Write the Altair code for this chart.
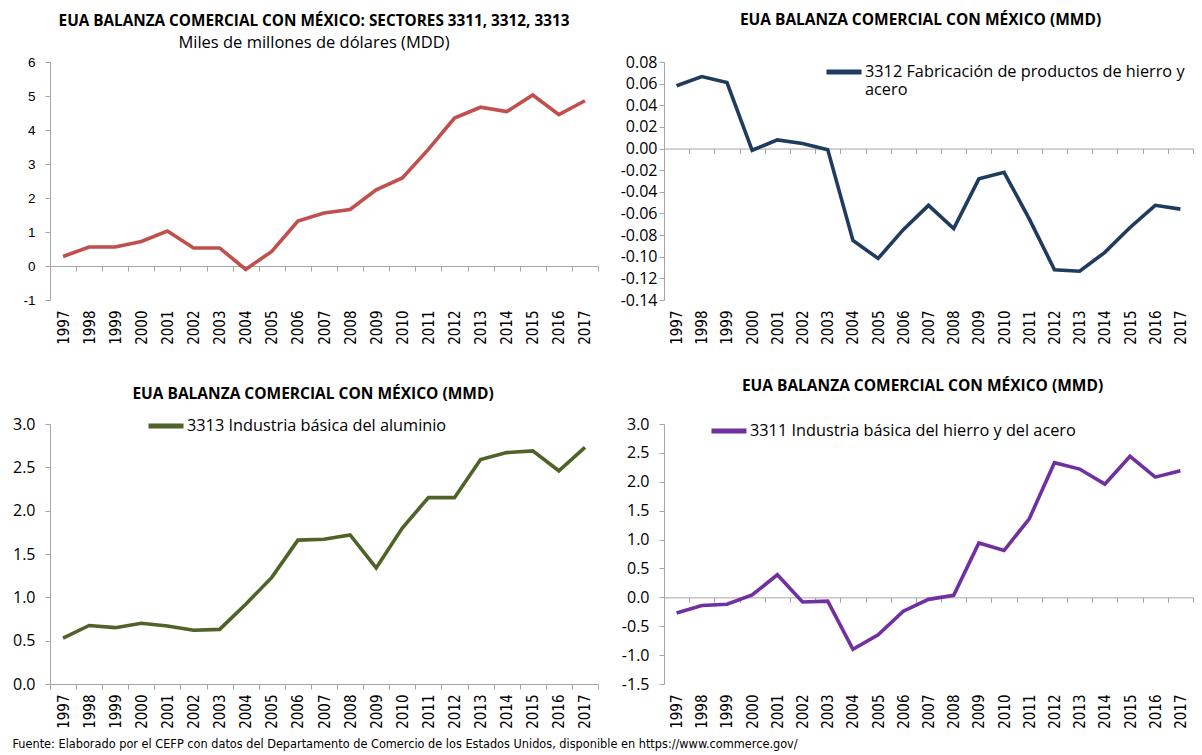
import altair as alt
import pandas as pd

years = ["1997", "1998", "1999", "2000", "2001", "2002", "2003", "2004", "2005", "2006", "2007",
         "2008", "2009", "2010", "2011", "2012", "2013", "2014", "2015", "2016", "2017"]

total = [0.28, 0.56, 0.56, 0.72, 1.03, 0.53, 0.53, -0.10, 0.43, 1.32, 1.56,
         1.66, 2.24, 2.59, 3.43, 4.35, 4.67, 4.54, 5.03, 4.45, 4.86]
s3312 = [0.058, 0.0665, 0.061, -0.0016, 0.008, 0.0047, -0.001, -0.085, -0.1016, -0.075, -0.0525,
         -0.074, -0.028, -0.022, -0.065, -0.112, -0.1134, -0.096, -0.073, -0.0525, -0.056]
s3313 = [0.53, 0.675, 0.65, 0.70, 0.67, 0.62, 0.63, 0.92, 1.23, 1.66, 1.67,
         1.72, 1.34, 1.80, 2.15, 2.15, 2.59, 2.67, 2.69, 2.46, 2.73]
s3311 = [-0.27, -0.14, -0.12, 0.04, 0.39, -0.08, -0.065, -0.90, -0.65, -0.24, -0.035,
         0.035, 0.94, 0.81, 1.36, 2.33, 2.22, 1.96, 2.44, 2.08, 2.19]

title_main = "EUA BALANZA COMERCIAL CON MÉXICO: SECTORES 3311, 3312, 3313"
subtitle_main = "Miles de millones de dólares (MDD)"
title_mmd = "EUA BALANZA COMERCIAL CON MÉXICO (MMD)"
name_total = "Total 3311, 3312, 3313"
name3312 = "3312 Fabricación de productos de hierro y acero"
name3313 = "3313 Industria básica del aluminio"
name3311 = "3311 Industria básica del hierro y del acero"
footer = ("Fuente: Elaborado por el CEFP con datos del Departamento de Comercio de los Estados Unidos, "
          "disponible en https://www.commerce.gov/")

GRAY = "#A6A6A6"
NARROW = "Liberation Sans Narrow, DejaVu Sans Condensed, sans-serif"
BODY = "Open Sans"

LW, RW = 548, 529
H1, H2 = 238, 260


def panel(values, name, color, ymin, ymax, step, fmt, width, height, title,
          ylab_font, ylab_size, ylab_pad, legend=None):
    df = pd.DataFrame({"year": years, "value": values, "serie": name})
    zero_px = height * (0 - ymin) / (ymax - ymin)
    n = int(round((ymax - ymin) / step))
    ticks = [round(ymin + i * step, 4) for i in range(n + 1)]
    label_expr = "replace(format(datum.value, '%s'), '\u2212', '-')" % fmt
    if legend is None:
        legend_obj = None
    else:
        legend_obj = alt.Legend(**legend)
    return alt.Chart(df).mark_line(strokeWidth=3.6).encode(
        x=alt.X("year:N", bandPosition=0.5,
                scale=alt.Scale(type="band", paddingInner=0, paddingOuter=0),
                axis=alt.Axis(title=None, labelAngle=-90, labelFont=NARROW, labelFontSize=15,
                              labelColor="#000000", tickBand="extent", tickSize=5,
                              tickColor=GRAY, domainColor=GRAY, grid=False,
                              offset=-zero_px, labelPadding=zero_px - 5 + 10)),
        y=alt.Y("value:Q",
                scale=alt.Scale(domain=[ymin, ymax], nice=False, zero=False),
                axis=alt.Axis(title=None, values=ticks, labelExpr=label_expr,
                              labelFont=ylab_font, labelFontSize=ylab_size,
                              labelColor="#000000", tickSize=5, tickColor=GRAY,
                              domainColor=GRAY, grid=False, labelPadding=ylab_pad)),
        color=alt.Color("serie:N", scale=alt.Scale(domain=[name], range=[color]),
                        legend=legend_obj),
    ).properties(width=width, height=height, title=title)


def leg(x, y, expr=None):
    d = dict(orient="none", legendX=x, legendY=y, title=None, symbolType="stroke",
             symbolStrokeWidth=5, symbolSize=1225, labelFont=BODY, labelFontSize=16.3,
             labelColor="#000000", labelLimit=0, labelOffset=1)
    if expr:
        d["labelExpr"] = expr
    return d


def ttl(text, dx, offset, size=15.5, subtitle=None):
    d = dict(font=BODY, fontSize=size, fontWeight="bold", color="#000000",
             anchor="middle", dx=dx, offset=offset)
    if subtitle:
        d.update(subtitle=subtitle, subtitleFont=BODY, subtitleFontSize=16.5,
                 subtitleColor="#000000", subtitlePadding=5)
    return alt.TitleParams(text, **d)


p1 = panel(total, name_total, "#C0504D", -1, 6, 1, "d", LW, H1,
           ttl(title_main, -10, 4, 15.3, subtitle_main), "Liberation Sans", 13.5, 10)
p2 = panel(s3312, name3312, "#1F3B5F", -0.14, 0.08, 0.02, ".2f", RW, H1,
           ttl(title_mmd, -8, 24), BODY, 16, 2,
           leg(160, -10, "['3312 Fabricación de productos de hierro y', 'acero']"))
p3 = panel(s3313, name3313, "#4F6228", 0, 3, 0.5, ".1f", LW, H2,
           ttl(title_mmd, -11, 4), BODY, 16, 10, leg(96, -18))
p4 = panel(s3311, name3311, "#7030A0", -1.5, 3, 0.5, ".1f", RW, H2,
           ttl(title_mmd, -6, 17), BODY, 16, 10, leg(45, -13))

chart = alt.concat(p1, p2, p3, p4, columns=2, spacing={"row": 124, "column": 66},
                   bounds="flush", align="each").properties(
    title=alt.TitleParams(footer, orient="bottom", anchor="start", font=NARROW,
                          fontSize=12.6, fontWeight="normal", color="#000000", offset=10),
    padding={"left": 4, "top": 4, "right": 0, "bottom": 0},
).resolve_scale(color="independent").resolve_legend(color="independent").configure_view(stroke=None)

chart.save("out.html", embed_options={"renderer": "svg", "actions": False})
